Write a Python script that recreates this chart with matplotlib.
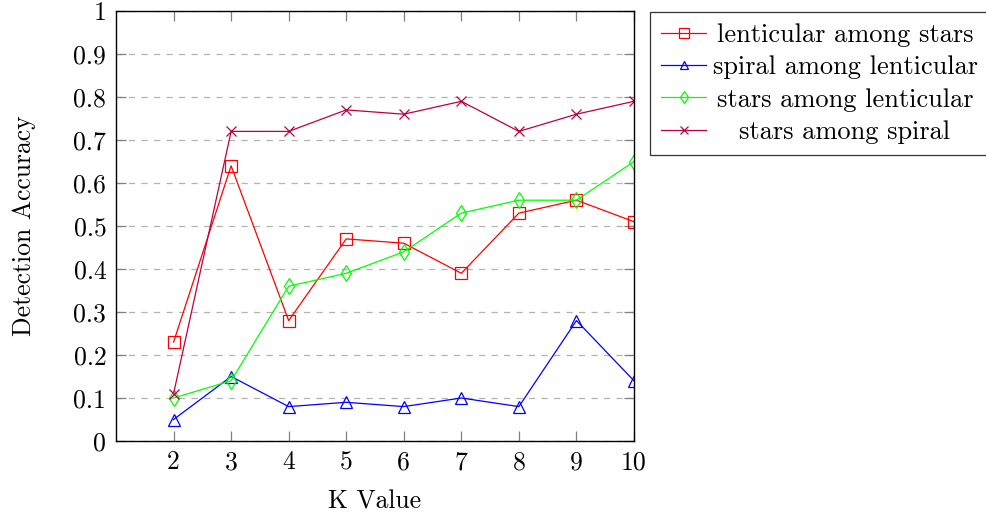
import matplotlib
matplotlib.use("Agg")
import matplotlib.pyplot as plt

plt.rcParams['font.family'] = 'cmr10'
plt.rcParams['mathtext.fontset'] = 'cm'
plt.rcParams['axes.formatter.use_mathtext'] = True

k_values = [2, 3, 4, 5, 6, 7, 8, 9, 10]
lenticular_among_stars = [0.23, 0.64, 0.28, 0.47, 0.46, 0.39, 0.53, 0.56, 0.51]
spiral_among_lenticular = [0.05, 0.15, 0.08, 0.09, 0.08, 0.10, 0.08, 0.28, 0.14]
stars_among_lenticular = [0.10, 0.14, 0.36, 0.39, 0.44, 0.53, 0.56, 0.56, 0.65]
stars_among_spiral = [0.11, 0.72, 0.72, 0.77, 0.76, 0.79, 0.72, 0.76, 0.79]
y_ticks = [0, 0.1, 0.2, 0.3, 0.4, 0.5, 0.6, 0.7, 0.8, 0.9, 1]
y_tick_labels = ['0', '0.1', '0.2', '0.3', '0.4', '0.5', '0.6', '0.7', '0.8', '0.9', '1']

fs = 18.5
lfs = 19
fig = plt.figure(figsize=(9.87, 5.17), dpi=100)
ax = fig.add_axes([116/987, 1-441/517, (634-116)/987, (441-11)/517])

purple = (0.75, 0, 0.25)
ax.plot(k_values, lenticular_among_stars, color='red', lw=0.9, marker='s', ms=9,
        mfc='none', mec='red', mew=0.9, label='lenticular among stars')
ax.plot(k_values, spiral_among_lenticular, color='blue', lw=0.9, marker='^', ms=8,
        mfc='none', mec='blue', mew=0.9, label='spiral among lenticular')
ax.plot(k_values, stars_among_lenticular, color=(0, 1, 0), lw=0.9, marker='d', ms=8,
        mfc='none', mec=(0, 1, 0), mew=0.9, label='stars among lenticular')
ax.plot(k_values, stars_among_spiral, color=purple, lw=0.9, marker='x', ms=7,
        mew=0.9, label='stars among spiral')

ax.set_xlim(1, 10)
ax.set_ylim(0, 1)
ax.set_xticks(k_values)
ax.set_xticklabels([str(k) for k in k_values])
ax.set_yticks(y_ticks)
ax.set_yticklabels(y_tick_labels)
ax.yaxis.grid(True, color='#b3b3b3', linestyle=(0, (5, 5)), lw=0.9)
ax.set_axisbelow(True)
ax.tick_params(direction='in', length=7, width=0.9, color='#808080',
               top=True, right=True, labelsize=fs)
ax.tick_params(axis='y', pad=7)
ax.tick_params(axis='x', pad=7)
for s in ax.spines.values():
    s.set_linewidth(1.0)
ax.set_xlabel('K Value', fontsize=fs, labelpad=11)
ax.set_ylabel('Detection Accuracy', fontsize=fs, labelpad=27)

leg = ax.legend(loc='upper left', bbox_to_anchor=(650/987, 1-12/517),
                bbox_transform=fig.transFigure, fontsize=lfs, frameon=True,
                fancybox=False, edgecolor='black', handlelength=1.7,
                handletextpad=0.25, borderpad=0.42, labelspacing=0.33,
                borderaxespad=0, markerscale=0.75)
leg.get_frame().set_linewidth(0.9)

# center legend texts within their column (pgfplots style)
fig.canvas.draw()
r = fig.canvas.get_renderer()
texts = leg.get_texts()
exts = [t.get_window_extent(r) for t in texts]
x0 = min(e.x0 for e in exts)
x1 = max(e.x1 for e in exts)
xc = (x0 + x1) / 2
inv = fig.transFigure.inverted()
for t, e in zip(texts, exts):
    t.set_alpha(0)
    yc = (e.y0 + e.y1) / 2
    fx, fy = inv.transform((xc, yc))
    fig.text(fx, fy, t.get_text(), ha='center', va='center', fontsize=lfs)

fig.savefig('out.png', dpi=100)
